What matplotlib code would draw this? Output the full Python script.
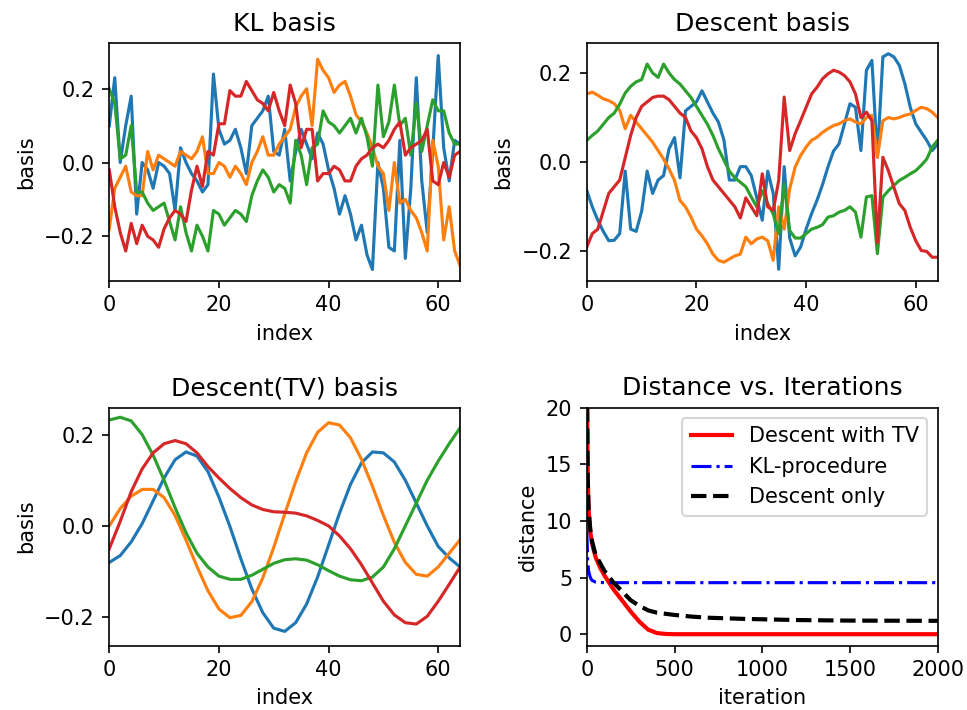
import numpy as np
import matplotlib
matplotlib.use("Agg")
import matplotlib.pyplot as plt

# --- KL basis (index 0..64) ---
kl_blue = [0.10, 0.23, 0.00, 0.10, 0.18, -0.14, 0.00, -0.02, -0.07, 0.00,
           -0.01, -0.03, -0.13, 0.04, 0.00, -0.03, -0.05, -0.08, -0.06, 0.24,
           0.09, 0.05, 0.06, 0.09, 0.04, -0.03, 0.10, 0.12, 0.14, 0.18,
           0.03, 0.02, 0.09, -0.05, 0.03, 0.09, 0.05, 0.01, 0.08, 0.05,
           -0.02, -0.07, -0.14, -0.09, -0.14, -0.21, -0.17, -0.25, -0.29, 0.00,
           -0.07, -0.23, -0.24, 0.06, -0.26, -0.07, 0.23, -0.05, -0.19, 0.03,
           0.29, 0.04, -0.05, 0.06, 0.05]
kl_orange = [-0.18, -0.07, -0.04, -0.01, -0.08, -0.09, -0.09, 0.03, -0.02, 0.02,
             0.01, 0.00, -0.01, 0.03, 0.02, 0.01, 0.03, 0.07, -0.03, -0.03,
             0.00, -0.01, -0.04, -0.01, -0.03, -0.06, 0.00, 0.03, 0.07, 0.02,
             0.02, 0.05, 0.07, 0.09, 0.15, 0.18, 0.20, 0.10, 0.28, 0.25,
             0.23, 0.19, 0.21, 0.22, 0.18, 0.13, 0.11, 0.08, 0.04, -0.01,
             -0.03, -0.13, 0.00, -0.11, -0.10, -0.13, -0.15, -0.19, -0.24, 0.06,
             -0.01, -0.21, -0.12, -0.24, -0.28]
kl_green = [0.20, 0.16, 0.01, 0.02, 0.10, -0.08, -0.08, -0.11, -0.13, -0.12,
            -0.11, -0.16, -0.21, -0.12, -0.19, -0.24, -0.17, -0.20, -0.24, -0.13,
            -0.14, -0.17, -0.15, -0.13, -0.14, -0.16, -0.09, -0.05, -0.02, -0.04,
            -0.08, -0.06, -0.07, -0.11, 0.06, 0.02, -0.06, 0.04, 0.05, 0.14,
            0.11, 0.10, 0.08, 0.10, 0.12, 0.08, 0.12, 0.07, -0.01, 0.21,
            0.07, 0.11, 0.21, 0.10, 0.12, 0.02, 0.16, 0.03, 0.10, 0.17,
            0.14, 0.14, 0.08, 0.05, 0.05]
kl_red = [-0.02, -0.12, -0.19, -0.24, -0.165, -0.22, -0.17, -0.20, -0.21, -0.23,
          -0.18, -0.15, -0.13, -0.14, -0.16, -0.075, -0.01, -0.065, 0.03, 0.02,
          0.105, 0.105, 0.195, 0.18, 0.18, 0.22, 0.195, 0.17, 0.16, 0.14,
          0.19, 0.14, 0.10, 0.21, 0.16, 0.04, 0.09, 0.09, -0.05, -0.03,
          -0.03, -0.01, -0.02, -0.05, -0.05, -0.01, 0.01, 0.02, 0.04, 0.05,
          0.04, 0.06, 0.09, 0.11, 0.02, 0.04, 0.05, 0.06, 0.09, -0.05,
          -0.06, 0.00, -0.04, 0.02, 0.03]

# --- Descent basis ---
desc_blue = [-0.064, -0.10, -0.13, -0.155, -0.176, -0.175, -0.16, -0.02, -0.15, -0.155,
             -0.11, -0.02, -0.07, -0.04, -0.03, 0.03, 0.055, -0.035, 0.115, 0.125,
             0.135, 0.16, 0.135, 0.11, 0.09, 0.05, -0.04, -0.04, -0.01, -0.01,
             -0.03, -0.08, -0.13, -0.02, -0.07, -0.24, -0.01, -0.17, -0.21, -0.19,
             -0.15, -0.115, -0.085, -0.05, -0.01, 0.025, 0.041, 0.086, 0.131, 0.123,
             0.026, 0.206, 0.228, 0.011, 0.236, 0.243, 0.236, 0.217, 0.176, 0.123,
             0.086, 0.067, 0.049, 0.026, 0.041]
desc_orange = [0.153, 0.157, 0.15, 0.142, 0.138, 0.131, 0.116, 0.075, 0.105, 0.09,
               0.075, 0.06, 0.045, 0.026, 0.007, -0.015, -0.041, -0.086, -0.10, -0.123,
               -0.15, -0.165, -0.183, -0.206, -0.22, -0.224, -0.217, -0.21, -0.206, -0.168,
               -0.183, -0.172, -0.168, -0.176, -0.22, -0.10, -0.15, -0.06, -0.011, 0.015,
               0.034, 0.049, 0.056, 0.067, 0.075, 0.082, 0.086, 0.093, 0.097, 0.09,
               0.086, 0.10, 0.105, 0.011, 0.093, 0.10, 0.097, 0.10, 0.105, 0.108,
               0.116, 0.123, 0.12, 0.112, 0.10]
desc_green = [0.049, 0.06, 0.07, 0.085, 0.10, 0.11, 0.13, 0.155, 0.17, 0.18,
              0.185, 0.22, 0.20, 0.19, 0.22, 0.20, 0.185, 0.175, 0.16, 0.145,
              0.125, 0.105, 0.085, 0.06, 0.03, 0.005, -0.02, -0.035, -0.045, -0.055,
              -0.078, -0.10, -0.064, -0.093, -0.116, -0.16, -0.05, -0.153, -0.17, -0.17,
              -0.16, -0.15, -0.146, -0.14, -0.123, -0.12, -0.112, -0.108, -0.10, -0.112,
              -0.168, -0.078, -0.075, -0.205, -0.078, -0.064, -0.052, -0.041, -0.034, -0.026,
              -0.019, -0.007, 0.007, 0.034, 0.049]
desc_red = [-0.19, -0.16, -0.15, -0.11, -0.07, -0.055, -0.04, 0.01, 0.06, 0.10,
            0.125, 0.135, 0.145, 0.148, 0.148, 0.14, 0.125, 0.11, 0.10, 0.07,
            0.055, 0.03, -0.01, -0.04, -0.055, -0.07, -0.085, -0.10, -0.125, -0.08,
            -0.10, -0.12, -0.026, -0.10, -0.108, -0.041, 0.146, 0.026, 0.064, 0.093,
            0.123, 0.153, 0.168, 0.187, 0.198, 0.206, 0.202, 0.194, 0.18, 0.153,
            0.10, 0.112, 0.093, -0.18, 0.011, -0.019, -0.056, -0.093, -0.108, -0.146,
            -0.176, -0.198, -0.20, -0.213, -0.213]

# --- Descent(TV) basis, read every 2nd index ---
tv_index = list(range(0, 65, 2))
tv_blue = [-0.08, -0.065, -0.035, 0.005, 0.055, 0.105, 0.145, 0.162, 0.153, 0.119,
           0.063, -0.001, -0.072, -0.138, -0.19, -0.224, -0.231, -0.212, -0.171, -0.112,
           -0.042, 0.028, 0.091, 0.138, 0.162, 0.16, 0.14, 0.10, 0.05, 0.0,
           -0.045, -0.07, -0.09]
tv_orange = [0.0, 0.038, 0.065, 0.08, 0.08, 0.062, 0.023, -0.031, -0.089, -0.142,
             -0.182, -0.201, -0.196, -0.166, -0.114, -0.047, 0.026, 0.097, 0.16, 0.205,
             0.226, 0.221, 0.193, 0.146, 0.087, 0.023, -0.036, -0.08, -0.106, -0.11,
             -0.09, -0.06, -0.03]
tv_green = [0.232, 0.238, 0.23, 0.20, 0.155, 0.10, 0.04, -0.015, -0.06, -0.09,
            -0.11, -0.117, -0.117, -0.108, -0.095, -0.082, -0.074, -0.072, -0.075, -0.085,
            -0.098, -0.11, -0.118, -0.12, -0.112, -0.09, -0.05, 0.0, 0.05, 0.10,
            0.142, 0.18, 0.215]
tv_red = [-0.05, 0.01, 0.075, 0.125, 0.16, 0.18, 0.187, 0.18, 0.16, 0.13,
          0.105, 0.082, 0.062, 0.046, 0.036, 0.031, 0.03, 0.028, 0.022, 0.012,
          0.0, -0.022, -0.05, -0.085, -0.125, -0.165, -0.195, -0.212, -0.215, -0.198,
          -0.165, -0.128, -0.09]

# --- Distance vs. iterations ---
tv_iters = [0, 5, 10, 20, 30, 50, 75, 100, 150, 200, 250, 300, 350, 400, 450, 500, 1000, 2000]
tv_dist = [24, 14, 11, 9.0, 8.0, 6.8, 5.9, 5.2, 4.0, 3.0, 2.0, 1.1, 0.4, 0.1, 0.02, 0.0, 0.0, 0.0]
kl_iters = [0, 5, 10, 20, 30, 50, 100, 2000]
kl_dist = [9.0, 6.5, 5.6, 5.0, 4.75, 4.6, 4.55, 4.55]
desc_iters = [0, 5, 10, 20, 30, 50, 100, 150, 200, 250, 300, 350, 400, 450, 500,
              600, 700, 900, 1200, 1500, 2000]
desc_dist = [24, 14, 11, 9.2, 8.2, 7.0, 5.6, 4.6, 3.8, 3.0, 2.5, 2.1, 1.9, 1.8, 1.7,
             1.55, 1.45, 1.35, 1.25, 1.2, 1.18]

idx = np.arange(len(kl_blue))

fig, axes = plt.subplots(2, 2, figsize=(967 / 150, 710 / 150))
fig.subplots_adjust(left=0.113, right=0.9697, bottom=0.0908, top=0.9394,
                    wspace=0.361, hspace=0.533)

ax = axes[0, 0]
for s in (kl_blue, kl_orange, kl_green, kl_red):
    ax.plot(idx, s)
ax.set_xlim(0, 64)
ax.set_ylim(-0.321, 0.324)
ax.set_title("KL basis")
ax.set_xlabel("index")
ax.set_ylabel("basis")

ax = axes[0, 1]
for s in (desc_blue, desc_orange, desc_green, desc_red):
    ax.plot(idx, s)
ax.set_xlim(0, 64)
ax.set_ylim(-0.266, 0.267)
ax.set_title("Descent basis")
ax.set_xlabel("index")
ax.set_ylabel("basis")

ax = axes[1, 0]
for s in (tv_blue, tv_orange, tv_green, tv_red):
    ax.plot(tv_index, s)
ax.set_xlim(0, 64)
ax.set_ylim(-0.262, 0.259)
ax.set_title("Descent(TV) basis")
ax.set_xlabel("index")
ax.set_ylabel("basis")

ax = axes[1, 1]
ax.plot(tv_iters, tv_dist, 'r-', lw=2, label='Descent with TV')
ax.plot(kl_iters, kl_dist, 'b-.', label='KL-procedure')
ax.plot(desc_iters, desc_dist, 'k--', lw=2, label='Descent only')
ax.set_xlim(0, 2000)
ax.set_ylim(-1, 20)
ax.set_title("Distance vs. Iterations")
ax.set_xlabel("iteration")
ax.set_ylabel("distance")
ax.legend(loc='upper right')

fig.savefig("out.png", dpi=150)
